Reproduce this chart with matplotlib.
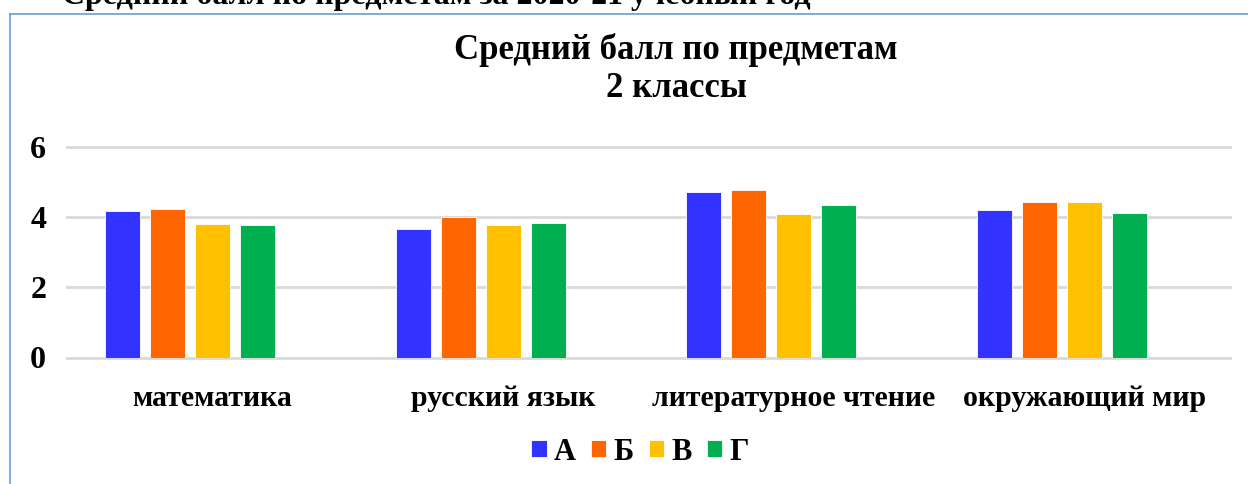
import matplotlib
matplotlib.use("Agg")
import matplotlib.pyplot as plt
from matplotlib.lines import Line2D
import numpy as np

categories = ["математика", "русский язык", "литературное чтение", "окружающий мир"]
series_names = ["А", "Б", "В", "Г"]
vals_A = [4.16, 3.65, 4.72, 4.19]
vals_B = [4.22, 3.99, 4.76, 4.42]
vals_V = [3.81, 3.77, 4.08, 4.43]
vals_G = [3.77, 3.83, 4.34, 4.11]
yticks = [0, 2, 4, 6]

colors = ["#3333FF", "#FF6600", "#FFC000", "#00B050"]
series = [vals_A, vals_B, vals_V, vals_G]

W, H = 1248, 484
fig = plt.figure(figsize=(W / 100, H / 100), dpi=100)
serif = ["Liberation Serif", "DejaVu Serif"]

def fx(px):
    return px / W

def fy(py):
    return 1 - py / H

# frame of the chart area (cropped)
fig.add_artist(Line2D([fx(9.5), fx(9.5)], [fy(13.5), 0], color="#6A9BD8", lw=1.2))
fig.add_artist(Line2D([fx(9.5), 1], [fy(13.5), fy(13.5)], color="#6A9BD8", lw=1.2))

# cut-off heading above
fig.text(fx(62), fy(4), "Средний балл по предметам за 2020-21 учебный год",
         family=serif, fontweight="bold", fontsize=23, ha="left", va="baseline")

# title
fig.text(fx(676), fy(59), "Средний балл по предметам", family=serif,
         fontweight="bold", fontsize=25, ha="center", va="baseline")
fig.text(fx(676), fy(97), "2 классы", family=serif,
         fontweight="bold", fontsize=25, ha="center", va="baseline")

ax = fig.add_axes([fx(67), fy(357.5), fx(1230) - fx(67), (357.5 - 146.7) / H])
x = np.arange(len(categories))
step = 45 / 290.75
bw = 35 / 290.75
for k, (vals, c, name) in enumerate(zip(series, colors, series_names)):
    ax.bar(x + (k - 2) * step, vals, width=bw, color=c, edgecolor="white",
           linewidth=0.6, label=name, zorder=3)

ax.set_xlim(-0.5, len(categories) - 0.5)
ax.set_ylim(0, 6)
ax.set_yticks(yticks)
ax.set_yticklabels([str(t) for t in yticks], family=serif, fontweight="bold", fontsize=23)
ax.set_xticks(x)
ax.set_xticklabels(categories, family=serif, fontweight="bold", fontsize=21.5)
ax.tick_params(axis="both", length=0)
ax.tick_params(axis="y", pad=15)
ax.tick_params(axis="x", pad=20)
for s in ax.spines.values():
    s.set_visible(False)
ax.yaxis.grid(True, color="#D9D9D9", lw=2, zorder=0)
ax.set_axisbelow(True)
for gl in ax.get_ygridlines():
    gl.set_clip_on(False)

leg = fig.legend(loc="center", bbox_to_anchor=(fx(640), fy(452)), ncol=4, frameon=False,
                 prop={"family": serif, "weight": "bold", "size": 22},
                 handlelength=0.5, handleheight=0.5, handletextpad=0.23, columnspacing=0.5)

fig.savefig("out.png", dpi=100)
